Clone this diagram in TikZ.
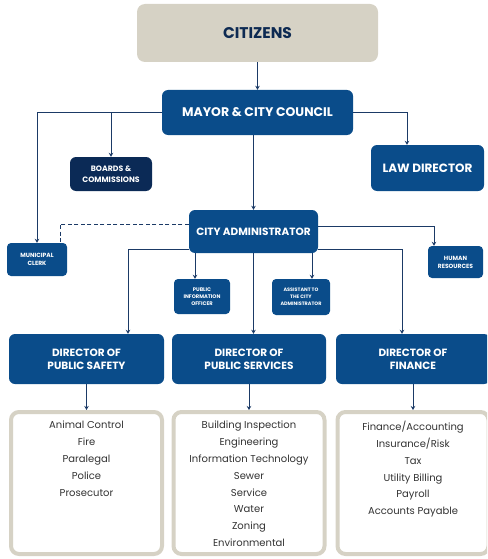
\documentclass[tikz,border=0pt]{standalone}
\usepackage{fontspec}
\setmainfont{Poppins}
\usetikzlibrary{arrows.meta}
\definecolor{blueA}{HTML}{0A4C8A}
\definecolor{navyB}{HTML}{0B2A56}
\definecolor{beige}{HTML}{D6D2C5}
\definecolor{lineC}{HTML}{1B3A66}
\definecolor{txtC}{HTML}{0D2A52}
\definecolor{listT}{HTML}{333333}
\tikzset{
  hdr/.style={rectangle, rounded corners=6pt, fill=blueA, text=white, align=center, inner sep=0pt},
  listbox/.style={rectangle, rounded corners=8pt, draw=beige, line width=4pt, fill=white, inner sep=0pt, minimum width=151pt, minimum height=142pt},
  listtxt/.style={align=center, inner sep=0pt, anchor=north, text=listT, font=\fontsize{10}{16.8}\selectfont},
  conn/.style={draw=lineC, line width=1pt},
  arr/.style={conn, -{Stealth[length=4pt,width=4.5pt]}},
}
\begin{document}
\begin{tikzpicture}[x=1pt,y=-1pt]
\useasboundingbox (0,0) rectangle (487,559);
\clip (0,0) rectangle (487,559);

% boxes
\node[hdr, fill=beige, text=txtC, rounded corners=8pt, minimum width=241pt, minimum height=58pt, font=\fontsize{15.5}{18}\selectfont\bfseries] (cit) at (257.5,33) {CITIZENS};
\node[hdr, minimum width=191pt, minimum height=45pt, font=\fontsize{12.5}{15}\selectfont\bfseries] (mayor) at (257.5,112.5) {MAYOR \& CITY COUNCIL};
\node[hdr, fill=navyB, minimum width=82pt, minimum height=34pt, font=\fontsize{7.8}{10.5}\selectfont\bfseries] (boards) at (111,174) {BOARDS \&\\COMMISSIONS};
\node[hdr, minimum width=113pt, minimum height=46pt, font=\fontsize{12}{14}\selectfont\bfseries] (law) at (427.5,168) {LAW DIRECTOR};
\node[hdr, minimum width=129pt, minimum height=43pt, font=\fontsize{10.5}{13}\selectfont\bfseries] (admin) at (253.5,231.5) {CITY ADMINISTRATOR};
\node[hdr, rounded corners=4pt, minimum width=60pt, minimum height=33pt, font=\fontsize{6}{8}\selectfont\bfseries] (clerk) at (37,259.5) {MUNICIPAL\\CLERK};
\node[hdr, rounded corners=4pt, minimum width=55pt, minimum height=32pt, font=\fontsize{6}{8}\selectfont\bfseries] (hr) at (455.5,262) {HUMAN\\RESOURCES};
\node[hdr, rounded corners=4pt, minimum width=56pt, minimum height=35pt, font=\fontsize{5.2}{7}\selectfont\bfseries] (pio) at (202,296.5) {PUBLIC\\INFORMATION\\OFFICER};
\node[hdr, rounded corners=4pt, minimum width=58pt, minimum height=36pt, font=\fontsize{4.9}{7}\selectfont\bfseries] (asst) at (301,297) {ASSISTANT TO\\THE CITY\\ADMINISTRATOR};
\node[hdr, minimum width=155pt, minimum height=50pt, font=\fontsize{10.5}{12.6}\selectfont\bfseries] (dps) at (86.5,359) {DIRECTOR OF\\PUBLIC SAFETY};
\node[hdr, minimum width=154pt, minimum height=50pt, font=\fontsize{10.5}{12.6}\selectfont\bfseries] (dpsv) at (249,359) {DIRECTOR OF\\PUBLIC SERVICES};
\node[hdr, minimum width=154pt, minimum height=50pt, font=\fontsize{10.5}{12.6}\selectfont\bfseries] (dfin) at (413,359) {DIRECTOR OF\\FINANCE};

\node[listbox] (l1) at (86.5,483) {};
\node[listbox] (l2) at (249,483) {};
\node[listbox] (l3) at (413,483) {};
\node[listtxt] (t1) at ([yshift=-11pt]l1.north) {Animal Control\\Fire\\Paralegal\\Police\\Prosecutor};
\node[listtxt] (t2) at ([yshift=-11pt]l2.north) {Building Inspection\\Engineering\\Information Technology\\Sewer\\Service\\Water\\Zoning\\Environmental};
\node[listtxt] (t3) at ([yshift=-11pt]l3.north) {Finance/Accounting\\Insurance/Risk\\Tax\\Utility Billing\\Payroll\\Accounts Payable};

% connectors
\draw[arr] (cit.south) -- (mayor.north);
\draw[arr] (mayor.west) -| (clerk.north);
\draw[arr] (mayor.west -| boards.north) -- (boards.north);
\draw[arr] (mayor.east) -| ([xshift=-20.5pt]law.north);
\draw[arr] (mayor.south -| admin.north) -- (admin.north);
\draw[conn, dashed, dash pattern=on 4pt off 2.5pt] ([yshift=7.5pt]admin.west) -| ([xshift=23pt]clerk.north);
\draw[arr] ([yshift=5.5pt]admin.east) -| ([xshift=-21.5pt]hr.north);
\draw[arr] ([xshift=-58.5pt]admin.south) -- ([xshift=-7pt]pio.north);
\draw[arr] ([xshift=58.5pt]admin.south) -- ([xshift=11pt]asst.north);
\draw[arr] ([yshift=-17.5pt]admin.west) -| ([xshift=41.5pt]dps.north);
\draw[arr] ([yshift=-17.5pt]admin.east) -| ([xshift=-11pt]dfin.north);
\draw[arr] (admin.south) -- (admin.south |- dpsv.north);
\draw[arr] (dps.south) -- (l1.north);
\draw[arr] (dpsv.south) -- (l2.north);
\draw[arr] (dfin.south) -- (l3.north);
\end{tikzpicture}
\end{document}
